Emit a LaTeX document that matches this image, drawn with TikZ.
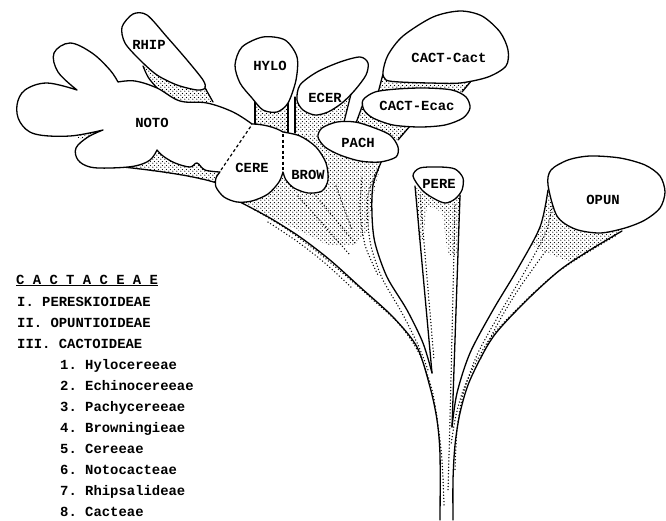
\documentclass[tikz,border=0pt]{standalone}
\usepackage{fontspec}
\setmonofont{Liberation Mono}
\usetikzlibrary{patterns.meta}

% Stipple for the shaded stems
\tikzdeclarepattern{
  name=stipple,
  type=uncolored,
  bottom left={(0pt,0pt)},
  top right={(4pt,4pt)},
  tile size={(4pt,4pt)},
  code={
    \fill (1pt,1pt) circle (0.75pt);
    \fill (3pt,3pt) circle (0.75pt);
  }
}

\tikzset{
  lobe/.style={draw, fill=white, line width=1.3pt, line join=round},
  rim/.style={line width=1.3pt, line cap=round},
  dotrow/.style={line width=1.5pt, line cap=round, dash pattern=on 0pt off 3.2pt},
  seam/.style={line width=1.2pt, dash pattern=on 3pt off 2.5pt},
  stip/.style={pattern=stipple},
  lbl/.style={font=\ttfamily\bfseries\fontsize{13.9}{16}\selectfont, inner sep=0pt}
}

\begin{document}
\begin{tikzpicture}[x=1pt,y=-1pt]
\useasboundingbox (0,0) rectangle (666,520);

% Junctions of the trunk
\coordinate (cactJoin) at (432,373);
\coordinate (opunJoin) at (452,427);

% Stippled stems behind the lobes
\fill[stip] (120,166) -- (150,171) -- (185,176) -- (216,183) -- (222,168) -- (200,158) -- (160,146) -- (130,158) -- cycle;
\fill[stip] (72,136) -- (103,130) -- (85,140) -- cycle;
\fill[stip] (143,66) -- (158,89) -- (180,101) -- (213,102) -- (205,86) -- (175,83) -- cycle;
\fill[stip] (255,98) rectangle (288,132);
\fill[stip] (295,96) -- (352,90) -- (344,122) -- (320,133) -- (295,133) -- cycle;
\fill[stip] (383,74) -- (472,80) -- (462,92) -- (378,93) -- cycle;
\fill[stip] (362,103) -- (375,118) -- (410,126) -- (398,140) -- (380,135) -- (356,124) -- cycle;
\fill[stip] (232,196) -- (265,214) -- (300,231) -- (330,246) -- (355,245) -- (368,230) -- (372,200) -- (382,160) -- (345,150) -- (320,135) -- (295,133) -- (283,165) -- cycle;
\fill[stip] (416,188) -- (461,192) -- (458,255) -- (448,255) -- (442,212) -- (427,205) -- (423,240) -- (419,240) -- cycle;
\fill[stip] (548,188) -- (543,222) -- (532,245) -- (545,252) -- (570,262) -- (598,245) -- (622,231) -- cycle;

% Stem lines
\draw[rim] (143,66) .. controls (148,78) .. (158,89);
\draw[rim] (204,86) -- (213,102);
\draw[rim] (255,98) -- (255,125);
\draw[rim] (288,100) -- (288,133);
\draw[rim] (295,97) -- (295,133);
\draw[rim] (352,90) -- (344,122);
\draw[rim] (383,74) -- (378,93);
\draw[rim] (472,80) -- (462,92);
\draw[rim] (363,104) -- (356,123);
\draw[rim] (410,126) -- (398,140);
\draw[rim] (123,167) .. controls (160,171) and (195,176) .. (217,183);

% Cactoideae fan and trunk
\draw[rim] plot[smooth] coordinates {(240,202) (270,218) (300,237) (330,260) (360,287) (393,317) (417,347) (430,387) (437,420) (440,455) (440,520)};
\draw[rim] plot[smooth] coordinates {(382,160) (373,185) (372,215) (375,243) (387,277) (407,310) (423,343) (cactJoin)};
% Pereskioideae stem
\draw[rim] (415,186) -- (cactJoin);
\draw[rim] (460,195) -- (opunJoin);
% Opuntioideae fan
\draw[rim] plot[smooth] coordinates {(548,190) (540,227) (517,270) (493,310) (470,353) (457,393) (opunJoin)};
\draw[rim] plot[smooth] coordinates {(622,231) (590,250) (560,270) (527,300) (493,337) (470,380) (460,413) (455,445) (453,480) (453,520)};

% Dotted rows inside the branches
\draw[dotrow] plot[smooth] coordinates {(255,210) (285,228) (315,250) (345,275) (372,299) (400,325) (420,355) (432,390) (438,425) (442,460) (444,505)};
\draw[dotrow] plot[smooth] coordinates {(268,222) (298,242) (326,264) (352,288)};
\draw[dotrow] plot[smooth] coordinates {(377,170) (368,195) (368,225) (372,250) (383,280) (402,313) (418,345) (428,370)};
\draw[dotrow] plot[smooth] coordinates {(362,178) (360,210) (365,245) (378,275)};
\draw[dotrow] (298,196) -- (350,255);
\draw[dotrow] (316,196) -- (355,243);
\draw[dotrow] (336,186) -- (352,230);
\draw[dotrow] (420,195) -- (434,360);
\draw[dotrow] (455,205) -- (450,420) -- (448,490);
\draw[dotrow] plot[smooth] coordinates {(553,200) (546,232) (524,273) (500,313) (477,355) (463,395) (457,430) (455,470)};
\draw[dotrow] plot[smooth] coordinates {(615,236) (585,254) (555,274) (522,304) (489,340) (466,383) (456,415) (451,445)};
\draw[dotrow] plot[smooth] coordinates {(545,252) (518,290) (497,325) (480,360)};

% Notocacteae
\path[lobe] plot[smooth, tension=0.6] coordinates {(77,90) (58,72) (54,53) (70,43) (92,53) (110,70) (118,82)}
  -- plot[smooth, tension=0.6] coordinates {(118,82) (135,81) (157,88) (180,101) (207,103) (233,112) (252,124)}
  -- (245,160) -- (220,172)
  -- plot[smooth, tension=0.6] coordinates {(220,172) (205,170) (197,163) (190,167) (175,163) (163,156) (157,150)}
  -- plot[smooth, tension=0.6] coordinates {(157,150) (150,160) (135,166) (110,168) (90,167) (78,160) (76,148) (88,137) (103,130)}
  -- plot[smooth, tension=0.6] coordinates {(103,130) (70,136) (35,134) (20,122) (17,105) (25,90) (47,83) (77,90)}
  -- cycle;

% The other lobes
\path[lobe] plot[smooth cycle] coordinates {(125,43) (122,27) (133,14) (147,15) (167,37) (187,60) (203,80) (205,88) (197,90) (177,85) (157,75) (140,60)};
\path[lobe] plot[smooth cycle] coordinates {(240,83) (235,65) (242,47) (263,37) (285,40) (297,57) (296,80) (288,103) (277,112) (263,110) (252,98)};
\path[lobe] plot[smooth cycle] coordinates {(297,100) (300,85) (317,72) (340,62) (360,57) (368,63) (366,75) (355,90) (342,103) (328,112) (315,115) (303,110)};
\path[lobe] plot[smooth cycle] coordinates {(383,72) (388,55) (403,36) (433,17) (460,11) (482,16) (500,32) (508,50) (506,66) (488,77) (460,83) (430,83) (400,82) (386,80)};
\path[lobe] plot[smooth cycle] coordinates {(363,100) (375,92) (397,89) (425,88) (452,90) (466,97) (470,108) (463,118) (445,125) (420,127) (393,125) (373,118) (364,110)};
\path[lobe] plot[smooth cycle] coordinates {(318,137) (322,128) (337,122) (355,122) (372,127) (390,135) (398,147) (396,157) (380,162) (360,161) (340,155) (325,147)};
\path[lobe] plot[smooth cycle] coordinates {(413,176) (420,168) (440,167) (455,169) (463,178) (462,190) (455,199) (445,203) (433,198) (422,190)};
\path[lobe] plot[smooth cycle] coordinates {(548,185) (551,170) (568,160) (590,156) (620,158) (645,165) (660,176) (665,192) (660,208) (645,220) (625,228) (600,233) (575,229) (557,216)};

% Cereeae and Browningieae with their dashed seams
\fill[white] (252,124) .. controls (262,124) and (275,127) .. (283,132) -- (283,172)
  -- plot[smooth] coordinates {(283,172) (279,182) (268,194) (252,201) (237,202) (224,197) (216,187) (216,178) (220,172)} -- cycle;
\draw[rim] (252,124) .. controls (262,124) and (275,127) .. (283,132);
\draw[rim] plot[smooth] coordinates {(283,172) (279,182) (268,194) (252,201) (237,202) (224,197) (216,187) (216,178) (220,172)};
\fill[white] (283,132) -- plot[smooth] coordinates {(283,132) (300,136) (316,147) (326,163) (328,180) (322,191) (308,193) (294,188) (286,180) (283,172)} -- cycle;
\draw[rim] plot[smooth] coordinates {(283,132) (300,136) (316,147) (326,163) (328,180) (322,191) (308,193) (294,188) (286,180) (283,172)};
\draw[seam] (283,134) -- (283,171);
\draw[seam] (221,170) -- (251,126);

% Lobe labels
\node[lbl] (rhip) at (149,45) {RHIP};
\node[lbl] (noto) at (152,123) {NOTO};
\node[lbl] (hylo) at (270,66) {HYLO};
\node[lbl] (ecer) at (325,98) {ECER};
\node[lbl] (cactCact) at (449,58) {CACT-Cact};
\node[lbl] (cactEcac) at (417,106) {CACT-Ecac};
\node[lbl] (pach) at (358,143) {PACH};
\node[lbl] (cere) at (252,168) {CERE};
\node[lbl] (brow) at (308,175) {BROW};
\node[lbl] (pere) at (439,184) {PERE};
\node[lbl] (opun) at (603,200) {OPUN};

% Legend
\node[lbl, anchor=base west] (family) at (16,284) {\underline{C A C T A C E A E}};
\foreach \txt [count=\i] in {I. PERESKIOIDEAE, II. OPUNTIOIDEAE, III. CACTOIDEAE}
  \node[lbl, anchor=base west] (sub\i) at (17,285+21*\i) {\txt};
\foreach \txt [count=\i] in {Hylocereeae, Echinocereeae, Pachycereeae, Browningieae, Cereeae, Notocacteae, Rhipsalideae, Cacteae}
  \node[lbl, anchor=base west] (tribe\i) at (60,348+21*\i) {\i. \txt};

\end{tikzpicture}
\end{document}
